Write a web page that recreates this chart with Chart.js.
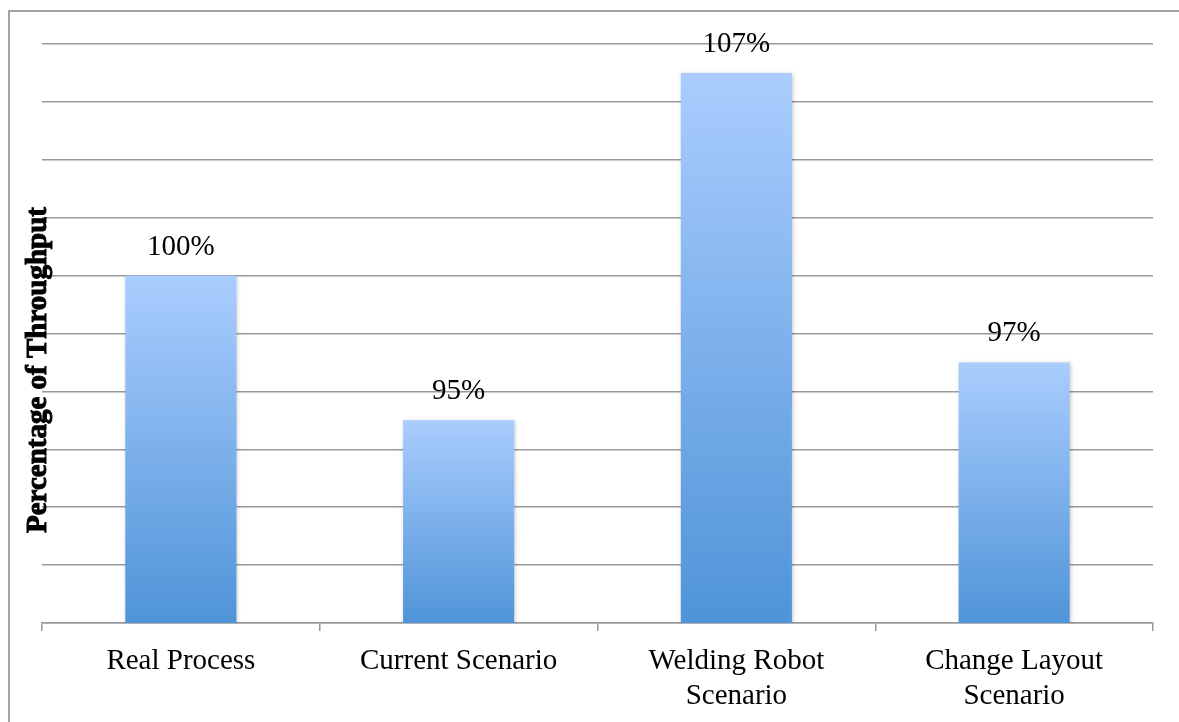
<!DOCTYPE html>
<html>
<head>
<meta charset="utf-8">
<script src="https://cdn.jsdelivr.net/npm/chart.js@4"></script>
<style>
  html, body { margin: 0; padding: 0; background: #fff; overflow: hidden; }
  #wrap { position: relative; width: 1179px; height: 722px; }
  #frame {
    position: absolute; left: 8px; top: 10px; width: 1200px; height: 740px;
    border-top: 2px solid #a3a3a3; border-left: 2px solid #a3a3a3;
    box-sizing: border-box; pointer-events: none;
  }
  canvas { position: absolute; left: 0; top: 0; }
</style>
</head>
<body>
<div id="wrap">
  <div id="frame"></div>
  <canvas id="throughput" width="1179" height="722"></canvas>
</div>
<script>
const categories = [
  "Real Process",
  "Current Scenario",
  ["Welding Robot", "Scenario"],
  ["Change Layout", "Scenario"],
];
const throughput = [100, 95, 107, 97];
const yRange = [88, 108, 2]; // min, max, step (no labels shown)

const serif = "'Times New Roman', 'Liberation Serif', serif";

// bar gradient from light top to darker base
function barGradient(c) {
  const chart = c.chart;
  const y = chart.scales.y;
  if (!y || c.raw == null) return "#7fb0ec";
  const top = y.getPixelForValue(c.raw);
  const bottom = y.getPixelForValue(yRange[0]);
  if (!isFinite(top) || !isFinite(bottom) || top === bottom) return "#7fb0ec";
  const g = chart.ctx.createLinearGradient(0, top, 0, bottom);
  g.addColorStop(0, "#aacdfe");
  g.addColorStop(1, "#4f94d8");
  return g;
}

const barShadow = {
  id: "barShadow",
  beforeDatasetsDraw(chart) {
    const ctx = chart.ctx;
    ctx.save();
    ctx.shadowColor = "rgba(0,0,0,0.22)";
    ctx.shadowBlur = 4;
    ctx.shadowOffsetX = 1;
    ctx.shadowOffsetY = 1;
  },
  afterDatasetsDraw(chart) {
    chart.ctx.restore();
  },
};

const valueLabels = {
  id: "valueLabels",
  afterDatasetsDraw(chart) {
    const ctx = chart.ctx;
    ctx.save();
    ctx.font = "29px " + serif;
    ctx.fillStyle = "#000";
    ctx.textAlign = "center";
    ctx.textBaseline = "alphabetic";
    chart.getDatasetMeta(0).data.forEach((bar, i) => {
      ctx.fillText(throughput[i] + "%", bar.x, bar.y - 21);
    });
    ctx.restore();
  },
};

const yTitle = {
  id: "yTitle",
  afterDraw(chart) {
    const ctx = chart.ctx;
    ctx.save();
    ctx.translate(39, 370);
    ctx.rotate(-Math.PI / 2);
    ctx.font = "bold 29px " + serif;
    ctx.fillStyle = "#000";
    ctx.strokeStyle = "#000";
    ctx.lineWidth = 1;
    ctx.textAlign = "center";
    ctx.textBaseline = "middle";
    ctx.fillText("Percentage of Throughput", 0, 0);
    ctx.strokeText("Percentage of Throughput", 0, 0);
    ctx.restore();
  },
};

new Chart(document.getElementById("throughput"), {
  type: "bar",
  data: {
    labels: categories,
    datasets: [
      {
        label: "Throughput",
        data: throughput,
        backgroundColor: barGradient,
        borderWidth: 0,
        barPercentage: 0.4,
        categoryPercentage: 1,
      },
    ],
  },
  options: {
    responsive: false,
    animation: false,
    devicePixelRatio: 1,
    layout: {
      padding: { left: 0, right: 26, top: 44, bottom: 0 },
    },
    scales: {
      x: {
        afterFit(s) {
          s.height = 99;
        },
        grid: {
          offset: true,
          drawOnChartArea: false,
          drawTicks: true,
          tickLength: 8,
          color: "#999",
          lineWidth: 1.5,
        },
        border: { display: true, color: "#999", width: 1.5 },
        ticks: {
          color: "#000",
          font: { family: serif, size: 29, lineHeight: 1.2 },
          padding: 13,
          maxRotation: 0,
          autoSkip: false,
        },
      },
      y: {
        min: yRange[0],
        max: yRange[1],
        afterFit(s) {
          s.width = 42;
        },
        ticks: { display: false, stepSize: yRange[2] },
        grid: { color: "#999", lineWidth: 1.5, drawTicks: false },
        border: { display: false },
      },
    },
    plugins: {
      legend: { display: false },
      tooltip: { enabled: false },
    },
  },
  plugins: [barShadow, valueLabels, yTitle],
});
</script>
</body>
</html>
